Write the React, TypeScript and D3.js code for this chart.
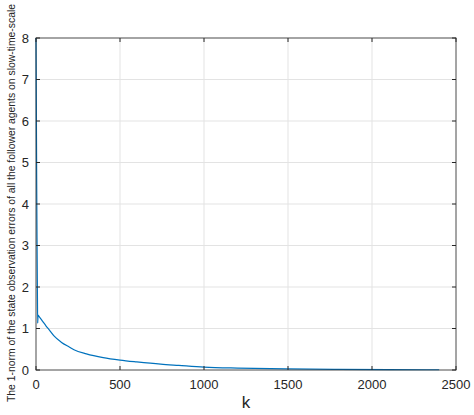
import React from "react";
import * as d3 from "d3";

const kValues = [0, 2, 4, 6, 8, 10, 12, 20, 40, 60, 80, 107, 150, 200, 226, 300, 400, 500, 600, 742, 850, 1000, 1200, 1500, 1800, 2100, 2400];
const errValues = [8.0, 6.4, 4.6, 3.2, 2.1, 1.13, 1.32, 1.28, 1.17, 1.06, 0.96, 0.82, 0.67, 0.55, 0.49, 0.39, 0.3, 0.24, 0.195, 0.14, 0.11, 0.07, 0.045, 0.025, 0.015, 0.009, 0.006];
const xTicks = [0, 500, 1000, 1500, 2000, 2500];
const yTicks = [0, 1, 2, 3, 4, 5, 6, 7, 8];
const xLabel = "k";
const yLabel = "The 1-norm of the state observation errors of all the follower agents on slow-time-scale";

const W = 474, H = 415;
const M = { left: 36, right: 456, top: 38, bottom: 370 };

export default function App() {
  const x = d3.scaleLinear().domain([0, 2500]).range([M.left, M.right]);
  const y = d3.scaleLinear().domain([0, 8]).range([M.bottom, M.top]);
  const pts = kValues.map((k, i) => [k, errValues[i]] as [number, number]);
  const line = d3.line<[number, number]>().x(d => x(d[0])).y(d => y(d[1])).curve(d3.curveMonotoneX);
  const axisColor = "#262626";
  const font = "Liberation Sans, Arial, sans-serif";
  return (
    <svg width={W} height={H} style={{ position: "absolute", left: 0, top: 0, background: "#fff" }}>
      <rect x={0} y={0} width={W} height={H} fill="#fff" />
      {xTicks.map(t => (
        <line key={"gx" + t} x1={x(t)} x2={x(t)} y1={M.top} y2={M.bottom} stroke="#e3e3e3" strokeWidth={1} />
      ))}
      {yTicks.map(t => (
        <line key={"gy" + t} x1={M.left} x2={M.right} y1={y(t)} y2={y(t)} stroke="#e3e3e3" strokeWidth={1} />
      ))}
      <path d={line(pts) || ""} fill="none" stroke="#0072BD" strokeWidth={1.2} />
      <rect x={M.left} y={M.top} width={M.right - M.left} height={M.bottom - M.top} fill="none" stroke={axisColor} strokeWidth={1} opacity={0.75} />
      {xTicks.map(t => (
        <g key={"tx" + t}>
          <line x1={x(t)} x2={x(t)} y1={M.bottom} y2={M.bottom - 4} stroke={axisColor} />
          <line x1={x(t)} x2={x(t)} y1={M.top} y2={M.top + 4} stroke={axisColor} />
          <text x={x(t)} y={M.bottom + 19} textAnchor="middle" fontFamily={font} fontSize={13} fill={axisColor}>{t}</text>
        </g>
      ))}
      {yTicks.map(t => (
        <g key={"ty" + t}>
          <line x1={M.left} x2={M.left + 4} y1={y(t)} y2={y(t)} stroke={axisColor} />
          <line x1={M.right} x2={M.right - 4} y1={y(t)} y2={y(t)} stroke={axisColor} />
          <text x={M.left - 7} y={y(t) + 4.5} textAnchor="end" fontFamily={font} fontSize={13} fill={axisColor}>{t}</text>
        </g>
      ))}
      <text x={(M.left + M.right) / 2} y={408} textAnchor="middle" fontFamily={font} fontSize={17} fill={axisColor}>{xLabel}</text>
      <text transform={`translate(15,203) rotate(-90)`} textAnchor="middle" fontFamily={font} fontSize={10.6} textLength={398} lengthAdjust="spacingAndGlyphs" fill={axisColor}>{yLabel}</text>
    </svg>
  );
}
